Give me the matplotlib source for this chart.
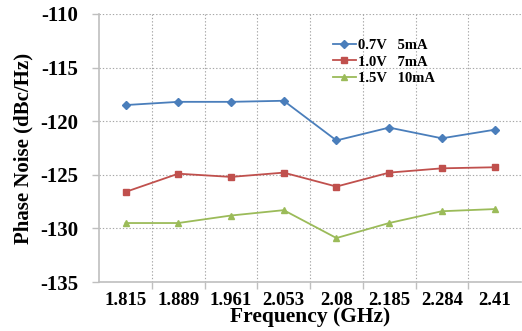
import matplotlib
matplotlib.use("Agg")
import matplotlib.pyplot as plt
import numpy as np

categories = ["1.815", "1.889", "1.961", "2.053", "2.08", "2.185", "2.284", "2.41"]
s1_label = "0.7V   5mA"
s1 = [-118.5, -118.2, -118.2, -118.1, -121.8, -120.6, -121.6, -120.8]
s2_label = "1.0V   7mA"
s2 = [-126.6, -124.9, -125.2, -124.8, -126.1, -124.8, -124.4, -124.3]
s3_label = "1.5V   10mA"
s3 = [-129.5, -129.5, -128.8, -128.3, -130.9, -129.5, -128.4, -128.2]
yticks = [-110, -115, -120, -125, -130, -135]

plt.rcParams['font.family'] = ['Liberation Serif', 'DejaVu Serif']
plt.rcParams['font.weight'] = 'bold'

fig = plt.figure(figsize=(5.22, 3.31), dpi=100)
ax = fig.add_axes([0.19, 0.148, 0.808, 0.81])

x = np.arange(len(categories))
ax.plot(x, s1, color="#4a7ebb", marker="D", markersize=4, lw=1.3, label=s1_label)
ax.plot(x, s2, color="#c0504d", marker="s", markersize=5, lw=1.3, label=s2_label)
ax.plot(x, s3, color="#9bbb59", marker="^", markersize=5, lw=1.3, label=s3_label)

ax.set_xlim(-0.5, len(categories) - 0.5)
ax.set_ylim(-135, -110)
ax.set_yticks(yticks)
ax.set_yticklabels([str(v) for v in yticks], fontsize=15, fontweight='bold')
ax.set_xticks(x)
ax.set_xticklabels(categories, fontsize=13.5, fontweight='bold')
ax.set_xticks(np.arange(0.5, len(categories) - 0.5, 1), minor=True)
ax.tick_params(axis='x', which='major', length=0, pad=7)
ax.tick_params(axis='x', which='minor', length=5, color="#bfbfbf", width=1)
ax.tick_params(axis='y', length=5, color="#bfbfbf", width=1, pad=10)

ax.grid(True, axis='y', which='major', linestyle=(0, (1.2, 1.8)), color="#a6a6a6", lw=0.8)
ax.grid(True, axis='x', which='minor', linestyle=(0, (1.2, 1.8)), color="#a6a6a6", lw=0.8)
ax.set_axisbelow(True)

for side in ['top', 'right']:
    ax.spines[side].set_visible(False)
for side in ['left', 'bottom']:
    ax.spines[side].set_color("#bfbfbf")
    ax.spines[side].set_linewidth(1.2)

ax.set_xlabel("Frequency (GHz)", fontsize=15.5, fontweight='bold', labelpad=-1)
ax.set_ylabel("Phase Noise (dBc/Hz)", fontsize=15, fontweight='bold', labelpad=5)

ax.legend(loc='upper left', bbox_to_anchor=(0.54, 0.93), frameon=False,
          prop={'size': 10.5, 'weight': 'bold'}, handlelength=1.6,
          handletextpad=0.1, labelspacing=0.25, borderaxespad=0)

fig.savefig("out.png", dpi=100)
